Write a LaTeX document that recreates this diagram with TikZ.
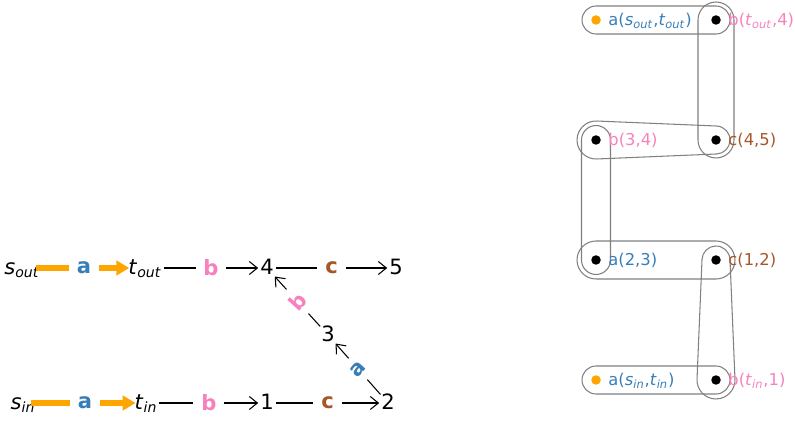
\documentclass[tikz,border=0pt]{standalone}
\usepackage{fontspec}
\setmainfont{DejaVu Sans}
\usepackage{tikz}
\usetikzlibrary{arrows.meta, positioning, calc, backgrounds}
\usepackage{xcolor}
\definecolor{setblue}{HTML}{377EB8}
\definecolor{setpink}{HTML}{F781BF}
\definecolor{setbrown}{HTML}{A65628}
\definecolor{hullgray}{HTML}{808080}
\definecolor{dotorange}{HTML}{FFA500}

\newcommand{\vsub}[2]{\textit{#1}\textsubscript{\textit{#2}}}

\begin{document}
\begin{tikzpicture}[x=0.02cm, y=-0.02cm,
    vert/.style={inner sep=1pt, text height=0.73em, text depth=0pt, font=\fontsize{12}{14}\selectfont},
    elabel/.style={fill=white, inner sep=4.5pt, font=\fontsize{12}{14}\selectfont\bfseries},
    thinarrow/.style={-{Straight Barb[length=1.6mm, width=2.6mm]}, line width=0.6pt},
    fatarrow/.style={-{Triangle[length=2.6mm, width=2.9mm]}, line width=3pt, draw=dotorange,
        shorten <=-0.12cm, shorten >=-0.06cm},
    dot/.style={circle, fill=black, inner sep=0pt, minimum size=0.19cm},
    rlabel/.style={inner sep=0pt, text height=0.76em, text depth=0.13em, font=\fontsize{9.3}{11}\selectfont},
    hull/.style={draw=hullgray, line width=0.6pt}
]
\useasboundingbox (0,0) rectangle (795,422);

% Left side - flow graph
\node[vert] (sout) at (22,268) {\vsub{s}{out}};
\node[vert] (tout) at (145,268) {\vsub{t}{out}};
\node[vert] (n4) at (267,268) {4};
\node[vert] (n5) at (396,268) {5};
\node[vert] (n3) at (328,335) {3};
\node[vert] (sin) at (23,403) {\vsub{s}{in}};
\node[vert] (tin) at (146,403) {\vsub{t}{in}};
\node[vert] (n1) at (267,403) {1};
\node[vert] (n2) at (388,403) {2};

% Edges
\draw[fatarrow] (sout) -- node[elabel, text=setblue] {a} (tout);
\draw[thinarrow] (tout) -- node[elabel, text=setpink] {b} (n4);
\draw[thinarrow] (n4) -- node[elabel, text=setbrown] {c} (n5);
\draw[fatarrow] (sin) -- node[elabel, text=setblue] {a} (tin);
\draw[thinarrow] (tin) -- node[elabel, text=setpink] {b} (n1);
\draw[thinarrow] (n1) -- node[elabel, text=setbrown] {c} (n2);
\draw[thinarrow] (n2) -- node[elabel, rotate=48, text=setblue] {a} (n3);
\draw[thinarrow] (n3) -- node[elabel, rotate=48, text=setpink] {b} (n4);

% Right side - labelled points
\node[dot, fill=dotorange] (aout) at (596,20) {};
\node[dot] (bout) at (716,20) {};
\node[dot] (b34) at (596,140) {};
\node[dot] (c45) at (716,140) {};
\node[dot] (a23) at (596,260) {};
\node[dot] (c12) at (716,260) {};
\node[dot, fill=dotorange] (ain) at (596,380) {};
\node[dot] (bin) at (716,380) {};

\node[rlabel, text=setblue, right=0.14cm of aout] (aoutl) {a(\vsub{s}{out},\vsub{t}{out})};
\node[rlabel, text=setpink, right=0.14cm of bout] (boutl) {b(\vsub{t}{out},4)};
\node[rlabel, text=setpink, right=0.14cm of b34] (b34l) {b(3,4)};
\node[rlabel, text=setbrown, right=0.14cm of c45] (c45l) {c(4,5)};
\node[rlabel, text=setblue, right=0.14cm of a23] (a23l) {a(2,3)};
\node[rlabel, text=setbrown, right=0.14cm of c12] (c12l) {c(1,2)};
\node[rlabel, text=setblue, right=0.14cm of ain] (ainl) {a(\vsub{s}{in},\vsub{t}{in})};
\node[rlabel, text=setpink, right=0.14cm of bin] (binl) {b(\vsub{t}{in},1)};

% Hulls
\begin{scope}[on background layer]
\draw[hull, rounded corners=0.28cm] ($(aout)+(-0.28cm,0.28cm)$) rectangle ($(bout)+(0.28cm,-0.28cm)$);
\draw[hull, rounded corners=0.36cm] ($(bout)+(-0.36cm,0.36cm)$) rectangle ($(c45)+(0.36cm,-0.36cm)$);
\draw[hull] ($(b34)+(87.61:0.38cm)$) -- ($(c45)+(87.61:0.28cm)$)
    arc[start angle=87.61, end angle=-87.61, radius=0.28cm]
    -- ($(b34)+(-87.61:0.38cm)$)
    arc[start angle=-87.61, end angle=-272.39, radius=0.38cm] -- cycle;
\draw[hull, rounded corners=0.29cm] ($(b34)+(-0.29cm,0.29cm)$) rectangle ($(a23)+(0.29cm,-0.29cm)$);
\draw[hull, rounded corners=0.38cm] ($(a23)+(-0.38cm,0.38cm)$) rectangle ($(c12)+(0.38cm,-0.38cm)$);
\draw[hull] ($(bin)+(2.39:0.38cm)$) -- ($(c12)+(2.39:0.28cm)$)
    arc[start angle=2.39, end angle=177.61, radius=0.28cm]
    -- ($(bin)+(177.61:0.38cm)$)
    arc[start angle=177.61, end angle=362.39, radius=0.38cm] -- cycle;
\draw[hull, rounded corners=0.28cm] ($(ain)+(-0.28cm,0.28cm)$) rectangle ($(bin)+(0.28cm,-0.28cm)$);
\end{scope}

\end{tikzpicture}
\end{document}
